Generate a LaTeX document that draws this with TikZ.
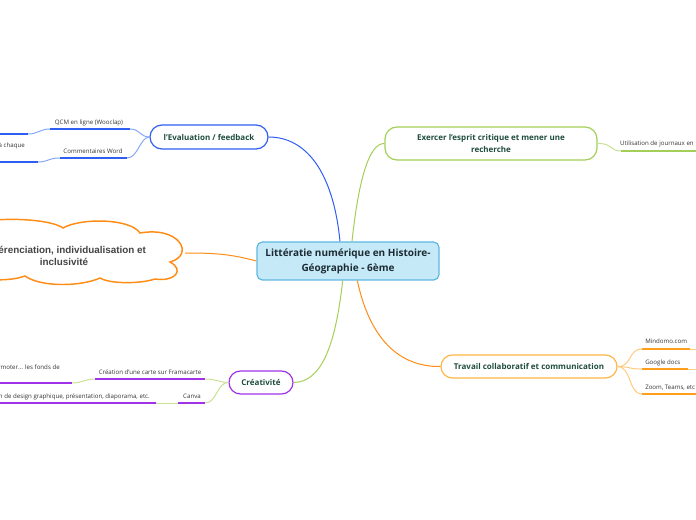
\documentclass[tikz,border=0pt]{standalone}
\usepackage{fontspec}
\setmainfont{Open Sans}
\newfontfamily\cloudfont{Liberation Sans}
\definecolor{bluec}{HTML}{2F5EF2}
\definecolor{bluel}{HTML}{86A8F7}
\definecolor{greenc}{HTML}{A3CF58}
\definecolor{greenl}{HTML}{C8E196}
\definecolor{orangec}{HTML}{FF8C17}
\definecolor{orangel}{HTML}{FFCB80}
\definecolor{yellowc}{HTML}{FFB646}
\definecolor{orangeu}{HTML}{FF9E1B}
\definecolor{purplec}{HTML}{A033E8}
\definecolor{txtgreen}{HTML}{1E4D3B}
\definecolor{centralfill}{HTML}{C6E9F8}
\definecolor{centraldraw}{HTML}{5DB7E2}
\definecolor{centraltxt}{HTML}{1C2B33}
\definecolor{smalltxt}{HTML}{333333}
\definecolor{cloudtxt}{HTML}{444444}
\begin{document}
\begin{tikzpicture}[x=0.75pt,y=-0.75pt,
  central/.style={draw=centraldraw, fill=centralfill, line width=0.9pt, rounded corners=4pt,
    minimum width=136.5pt, minimum height=28.5pt, align=center,
    font=\bfseries\fontsize{7.5}{11.25}\selectfont, text=centraltxt, inner sep=0pt},
  pill/.style={fill=white, line width=0.9pt, align=center,
    font=\bfseries\fontsize{6}{9.5}\selectfont, text=txtgreen, inner sep=0pt},
  small/.style={font=\fontsize{4.6}{6}\selectfont, text=smalltxt, inner sep=0pt},
  conn/.style={line width=0.75pt},
  uline/.style={line width=1.5pt}]
\useasboundingbox (0,0) rectangle (696,520);
\clip (0,0) rectangle (696,520);

% cloud
\draw[orangec, line width=1.1pt, fill=white]
  (-60,240) .. controls (-50,215) and (45,215) .. (63,228)
  .. controls (80,218) and (130,218) .. (140,233)
  .. controls (180,226) and (195,255) .. (170,262)
  .. controls (185,270) and (175,282) .. (155,279)
  .. controls (140,284) and (110,284) .. (100,278)
  .. controls (80,287) and (40,287) .. (25,276)
  .. controls (0,285) and (-60,280) .. (-60,240) -- cycle;
\node[font=\cloudfont\bfseries\fontsize{7.4}{9}\selectfont, text=cloudtxt, align=center, inner sep=0pt]
  (cloud) at (64,256) {Différenciation, individualisation et\\inclusivité};
\coordinate (cloudE) at (185,253);

% central
\node[central] (c) at (348,261) {Littératie numérique en Histoire-\\Géographie - 6ème};

% main branches
\node[pill, draw=bluec, rounded corners=9pt, minimum width=88.5pt, minimum height=18pt]
  (eval) at (209,137) {l'Evaluation / feedback};
\node[pill, draw=greenc, rounded corners=9pt, minimum width=159pt, minimum height=24.75pt]
  (exer) at (491,143.5) {Exercer l'esprit critique et mener une\\recherche};
\node[pill, draw=yellowc, rounded corners=8.6pt, minimum width=132pt, minimum height=17.25pt]
  (trav) at (529,366.5) {Travail collaboratif et communication};
\node[pill, draw=purplec, rounded corners=8.6pt, minimum width=48pt, minimum height=17.25pt]
  (crea) at (261,382.5) {Créativité};

\draw[conn, bluec] ([xshift=-6pt]c.north) .. controls (333,170) and (305,137) .. (eval.east);
\draw[conn, greenc] ([xshift=3pt]c.north) .. controls (358,185) and (368,143) .. (exer.west);
\draw[conn, orangec] ([xshift=7pt]c.south) .. controls (370,340) and (400,367) .. (trav.west);
\draw[conn, greenc] ([xshift=-4pt]c.south) .. controls (335,350) and (320,382) .. (crea.east);
\draw[conn, orangec] (cloudE) .. controls (215,253) and (230,254) .. (c.west);

% evaluation children
\coordinate (qcmR) at (130,129); \coordinate (qcmL) at (50,129);
\coordinate (comR) at (127,158); \coordinate (comL) at (60,158);
\coordinate (g1R) at (28,134); \coordinate (g1L) at (-5,134);
\coordinate (g2R) at (38,162); \coordinate (g2L) at (-5,162);
\node[small, anchor=base] (qcm) at (89,124.5) {QCM en ligne (Wooclap)};
\node[small, anchor=base] (com) at (93,153.5) {Commentaires Word};
\node[small, anchor=base east] (g2) at (25,148) {à chaque};
\draw[conn, bluel] (eval.west) .. controls (140,137) and (140,129) .. (qcmR);
\draw[conn, bluel] (eval.west) .. controls (140,137) and (138,158) .. (comR);
\draw[uline, bluec] (qcmL) -- (qcmR);
\draw[uline, bluec] (comL) -- (comR);
\draw[conn, bluel] (qcmL) .. controls (40,129) and (38,134) .. (g1R);
\draw[conn, bluel] (comL) .. controls (48,158) and (48,162) .. (g2R);
\draw[uline, bluec] (g1L) -- (g1R);
\draw[uline, bluec] (g2L) -- (g2R);

% exercer child
\coordinate (utiL) at (621,151); \coordinate (utiR) at (700,151);
\node[small, anchor=base east] (uti) at (694,146) {Utilisation de journaux en};
\draw[conn, greenl] (exer.east) .. controls (612,143) and (610,151) .. (utiL);
\draw[uline, greenc] (utiL) -- (utiR);

% travail children
\coordinate (minL) at (642,349); \coordinate (minR) at (690,349); \coordinate (minE) at (700,349);
\coordinate (gooL) at (642,369); \coordinate (gooR) at (688,369); \coordinate (gooE) at (700,369);
\coordinate (zooL) at (642,394); \coordinate (zooR) at (700,394);
\node[small, anchor=base west] (min) at (645,344) {Mindomo.com};
\node[small, anchor=base west] (goo) at (645,364) {Google docs};
\node[small, anchor=base west] (zoo) at (645,389) {Zoom, Teams, etc};
\draw[conn, orangel] (trav.east) .. controls (632,367) and (628,349) .. (minL);
\draw[conn, orangel] (trav.east) .. controls (632,367) and (628,369) .. (gooL);
\draw[conn, orangel] (trav.east) .. controls (632,367) and (628,394) .. (zooL);
\draw[uline, orangeu] (minL) -- (minR);
\draw[uline, orangeu] (gooL) -- (gooR);
\draw[uline, orangeu] (zooL) -- (zooR);
\draw[conn, orangel] (minR) -- (minE);
\draw[conn, orangel] (gooR) -- (gooE);

% creativite children
\coordinate (fraR) at (205,379); \coordinate (fraL) at (95,379);
\coordinate (canR) at (205,403); \coordinate (canL) at (178,403);
\coordinate (g3R) at (72,383); \coordinate (g3L) at (-5,383);
\coordinate (g4R) at (156,403); \coordinate (g4L) at (-5,403);
\node[small, anchor=base] (fra) at (150,374) {Création d'une carte sur Framacarte};
\node[small, anchor=base] (can) at (192,398) {Canva};
\node[small, anchor=base east] (g3) at (60,369) {armoter... les fonds de};
\node[small, anchor=base east] (g4) at (150,398) {on de design graphique, présentation, diaporama, etc.};
\draw[conn, greenl] (crea.west) .. controls (217,382) and (217,379) .. (fraR);
\draw[conn, greenl] (crea.west) .. controls (217,382) and (217,403) .. (canR);
\draw[uline, purplec] (fraL) -- (fraR);
\draw[uline, purplec] (canL) -- (canR);
\draw[conn, greenl] (fraL) .. controls (85,379) and (82,383) .. (g3R);
\draw[conn, greenl] (canL) -- (g4R);
\draw[uline, purplec] (g3L) -- (g3R);
\draw[uline, purplec] (g4L) -- (g4R);
\end{tikzpicture}
\end{document}
